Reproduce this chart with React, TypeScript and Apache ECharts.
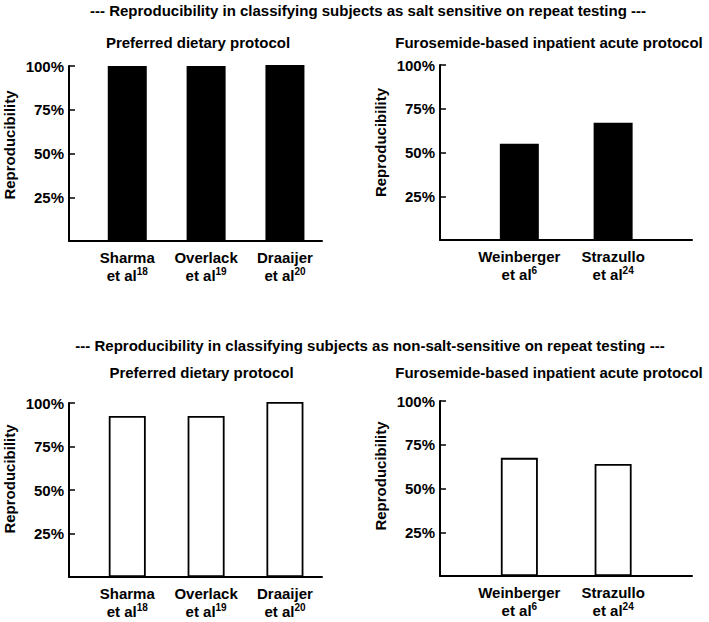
import React, { useEffect, useRef } from 'react';
import * as echarts from 'echarts';

const mainTitles = [
  '--- Reproducibility in classifying subjects as salt sensitive on repeat testing ---',
  '--- Reproducibility in classifying subjects as non-salt-sensitive on repeat testing ---',
];
const panelTitles = ['Preferred dietary protocol', 'Furosemide-based inpatient acute protocol'];
const yAxisName = 'Reproducibility';

const dietaryStudies = ['Sharma', 'Overlack', 'Draaijer'];
const dietaryRefs = ['18', '19', '20'];
const acuteStudies = ['Weinberger', 'Strazullo'];
const acuteRefs = ['6', '24'];

const dietarySaltSensitive = [100, 100, 100.6];
const acuteSaltSensitive = [55, 67];
const dietaryNonSaltSensitive = [92.5, 92.5, 100.6];
const acuteNonSaltSensitive = [67.5, 64];

const yTickValues = [25, 50, 75, 100];

const FONT = '"Liberation Sans", Arial, Helvetica, sans-serif';

type Panel = {
  left: number; top: number; width: number; height: number;
  xMin: number; xMax: number;
  names: string[]; refs: string[]; values: number[]; filled: boolean;
};

const panels: Panel[] = [
  { left: 69, top: 66, width: 253, height: 175, xMin: 0.261, xMax: 3.47, names: dietaryStudies, refs: dietaryRefs, values: dietarySaltSensitive, filled: true },
  { left: 440, top: 65, width: 252, height: 175, xMin: 0.154, xMax: 2.841, names: acuteStudies, refs: acuteRefs, values: acuteSaltSensitive, filled: true },
  { left: 69, top: 403, width: 253, height: 174, xMin: 0.261, xMax: 3.47, names: dietaryStudies, refs: dietaryRefs, values: dietaryNonSaltSensitive, filled: false },
  { left: 440, top: 401, width: 252, height: 175, xMin: 0.154, xMax: 2.841, names: acuteStudies, refs: acuteRefs, values: acuteNonSaltSensitive, filled: false },
];

function textEl(text: string, x: number, y: number, size: number, rotation = 0) {
  return {
    type: 'text',
    x, y, rotation,
    style: {
      text, fontSize: size, fontWeight: 'bold', fontFamily: FONT, fill: '#000',
      align: 'center', verticalAlign: 'middle', textAlign: 'center', textVerticalAlign: 'middle',
    },
  };
}

export default function App() {
  const ref = useRef<HTMLDivElement>(null);
  useEffect(() => {
    if (!ref.current) return;
    const chart = echarts.init(ref.current, undefined, { renderer: 'svg' });
    const option: any = {
      animation: false,
      backgroundColor: '#fff',
      textStyle: { fontFamily: FONT },
      grid: panels.map((p) => ({ left: p.left, top: p.top, width: p.width, height: p.height })),
      xAxis: panels.map((p, gi) => ({
        type: 'value',
        gridIndex: gi,
        min: p.xMin,
        max: p.xMax,
        splitLine: { show: false },
        axisTick: { show: false },
        axisLine: { show: true, lineStyle: { color: '#000', width: 2 } },
        axisLabel: {
          customValues: p.names.map((_, i) => i + 1),
          margin: 7,
          color: '#000',
          formatter: (v: number) => {
            const i = Math.round(v) - 1;
            return `{n|${p.names[i]}}\n{n|et al}{s|${p.refs[i]}}`;
          },
          rich: {
            n: { fontSize: 15, fontWeight: 'bold', fontFamily: FONT, color: '#000', lineHeight: 18 },
            s: { fontSize: 10, fontWeight: 'bold', fontFamily: FONT, color: '#000', lineHeight: 12, verticalAlign: 'top' },
          },
        },
      })),
      yAxis: panels.map((p, gi) => ({
        type: 'value',
        gridIndex: gi,
        min: 0,
        max: 100,
        splitLine: { show: false },
        axisLine: { show: true, lineStyle: { color: '#000', width: 2 } },
        axisTick: { show: true, inside: true, length: 6, customValues: yTickValues, lineStyle: { color: '#000', width: 1.5 } },
        axisLabel: {
          customValues: yTickValues,
          margin: 5,
          color: '#000',
          fontSize: 15,
          fontWeight: 'bold',
          fontFamily: FONT,
          formatter: (v: number) => `${v}%`,
        },
      })),
      series: panels.map((p, gi) => ({
        type: 'bar',
        xAxisIndex: gi,
        yAxisIndex: gi,
        clip: false,
        barWidth: p.filled ? 39 : 37,
        data: p.values.map((v, i) => [i + 1, v]),
        itemStyle: p.filled
          ? { color: '#000' }
          : { color: '#fff', borderColor: '#000', borderWidth: 1.8 },
      })),
      graphic: [
        textEl(mainTitles[0], 368, 10, 15),
        textEl(mainTitles[1], 370, 345, 15),
        textEl(panelTitles[0], 198, 42, 15),
        textEl(panelTitles[1], 549, 42, 15),
        textEl(panelTitles[0], 201.5, 372, 15),
        textEl(panelTitles[1], 549, 372, 15),
        textEl(yAxisName, 9.5, 145, 15, Math.PI / 2),
        textEl(yAxisName, 380.5, 142.5, 15, Math.PI / 2),
        textEl(yAxisName, 9.5, 479, 15, Math.PI / 2),
        textEl(yAxisName, 380.5, 476, 15, Math.PI / 2),
      ],
    };
    chart.setOption(option);
    return () => chart.dispose();
  }, []);
  return (
    <div
      ref={ref}
      style={{ position: 'fixed', left: 0, top: 0, width: 709, height: 622, background: '#fff' }}
    />
  );
}
